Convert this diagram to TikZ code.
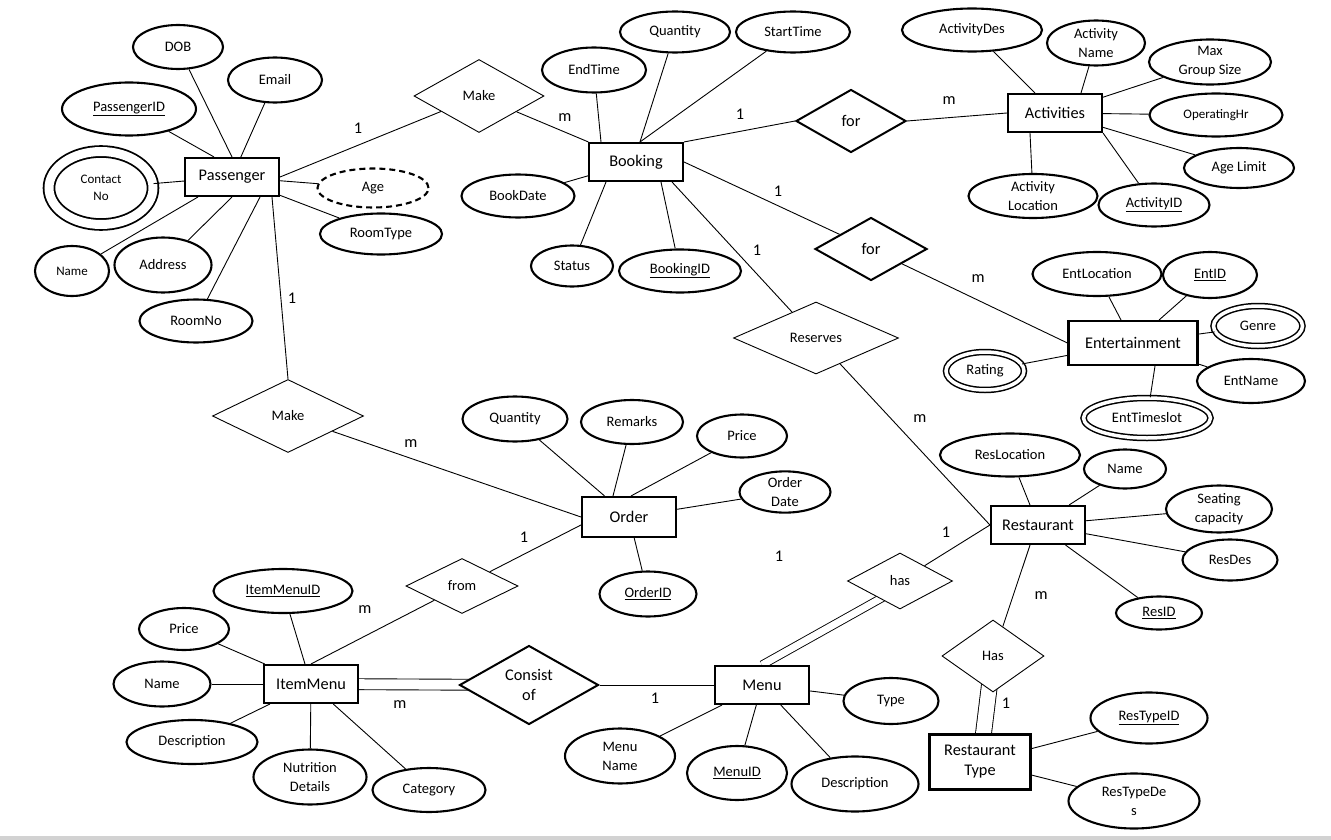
\documentclass[tikz,border=0pt]{standalone}
\usepackage{fontspec}
\setmainfont{Carlito}
\usetikzlibrary{shapes.geometric,backgrounds}

\newcommand\entsize{\fontsize{16.3}{20}\selectfont}
\newcommand\attsize{\fontsize{14.5}{19}\selectfont}
\newcommand\smallsize{\fontsize{13}{17}\selectfont}

\begin{document}
\begin{tikzpicture}[x=1pt,y=-1pt,
  entity/.style={draw,fill=white,line width=2.1pt,minimum width=94pt,minimum height=38pt,inner sep=1pt,font=\entsize,align=center},
  attr/.style={draw,fill=white,ellipse,line width=2.1pt,inner sep=0pt,font=\attsize,align=center},
  multiattr/.style={attr,double,double distance=3.5pt,line width=1.5pt},
  rel/.style={draw,fill=white,diamond,line width=0.9pt,inner sep=0pt,font=\attsize,align=center},
  relthick/.style={rel,line width=2pt,font=\entsize},
  link/.style={line width=0.9pt},
  twolink/.style={line width=0.9pt,double,double distance=#1},
  card/.style={font=\entsize}]
\node[entity] (passenger) at (232,177) {Passenger};
\node[entity] (booking) at (636,162) {Booking};
\node[entity] (activities) at (1055,113) {Activities};
\node[entity,minimum width=129pt,minimum height=44pt] (entertainment) at (1133,343) {Entertainment};
\node[entity] (restaurant) at (1038,525) {Restaurant};
\node[entity,minimum height=40pt] (order) at (629,517) {Order};
\node[entity] (itemmenu) at (311,684) {ItemMenu};
\node[entity] (menu) at (762,685) {Menu};
\node[entity,minimum width=101pt,minimum height=55pt] (restype) at (980,762) {Restaurant\\Type};

\node[rel,minimum width=130pt,minimum height=73pt] (makebook) at (479,96) {Make};
\node[relthick,minimum width=110pt,minimum height=63pt] (foract) at (851,121) {for};
\node[relthick,minimum width=112pt,minimum height=63pt] (forent) at (871,249) {for};
\node[rel,minimum width=165pt,minimum height=72pt] (reserves) at (816,338) {Reserves};
\node[rel,minimum width=151pt,minimum height=73pt] (makeorder) at (288,416) {Make};
\node[rel,minimum width=112pt,minimum height=55pt] (from) at (462,586) {from};
\node[relthick,minimum width=139pt,minimum height=65pt] (consist) at (529,685) {Consist\\of};
\node[rel,minimum width=105pt,minimum height=56pt] (hasmenu) at (900,581) {has};
\node[rel,minimum width=102pt,minimum height=72pt] (hastype) at (993,656) {Has};

\node[attr,minimum width=90pt,minimum height=44pt] (dob) at (178,47) {DOB};
\node[attr,minimum width=94pt,minimum height=45pt] (email) at (275,80) {Email};
\node[attr,minimum width=134pt,minimum height=53pt] (passid) at (129,109) {\underline{PassengerID}};
\node[multiattr,double distance=9pt,line width=1.8pt,minimum width=104pt,minimum height=73pt,font=\smallsize] (contact) at (101,188) {Contact\\No};
\node[attr,minimum width=74pt,minimum height=50pt,font=\smallsize] (pname) at (72,271) {Name};
\node[attr,minimum width=97pt,minimum height=55pt] (address) at (163,265) {Address};
\node[attr,minimum width=113pt,minimum height=43pt] (roomno) at (196,321) {RoomNo};
\node[attr,dash pattern=on 6pt off 4pt,minimum width=111pt,minimum height=39pt] (age) at (373,188) {Age};
\node[attr,minimum width=122pt,minimum height=41pt] (roomtype) at (381,234) {RoomType};

\node[attr,minimum width=104pt,minimum height=45pt] (endtime) at (594,70) {EndTime};
\node[attr,minimum width=110pt,minimum height=41pt] (bquantity) at (675,32) {Quantity};
\node[attr,minimum width=114pt,minimum height=41pt] (starttime) at (793,32) {StartTime};
\node[attr,minimum width=113pt,minimum height=43pt] (bookdate) at (518,196) {BookDate};
\node[attr,minimum width=82pt,minimum height=41pt] (status) at (572,266) {Status};
\node[attr,minimum width=122pt,minimum height=43pt] (bookingid) at (680,271) {\underline{BookingID}};

\node[attr,minimum width=140pt,minimum height=43pt] (actdes) at (972,30) {ActivityDes};
\node[attr,minimum width=98pt,minimum height=45pt] (actname) at (1096,43) {Activity\\Name};
\node[attr,minimum width=122pt,minimum height=45pt] (maxgroup) at (1210,62) {Max\\Group Size};
\node[attr,minimum width=133pt,minimum height=43pt,font=\smallsize] (operhr) at (1216,115) {OperatingHr};
\node[attr,minimum width=110pt,minimum height=40pt] (agelimit) at (1239,168) {Age Limit};
\node[attr,minimum width=129pt,minimum height=44pt] (actloc) at (1033,196) {Activity\\Location};
\node[attr,minimum width=111pt,minimum height=43pt] (actid) at (1154,205) {\underline{ActivityID}};

\node[attr,minimum width=129pt,minimum height=44pt] (entloc) at (1097,274) {EntLocation};
\node[attr,minimum width=94pt,minimum height=46pt] (entid) at (1210,275) {\underline{EntID}};
\node[multiattr,minimum width=89pt,minimum height=40pt] (genre) at (1258,326) {Genre};
\node[attr,minimum width=108pt,minimum height=44pt] (entname) at (1251,381) {EntName};
\node[multiattr,minimum width=78pt,minimum height=38pt] (rating) at (985,371) {Rating};
\node[multiattr,minimum width=127pt,minimum height=40pt] (enttime) at (1147,418) {EntTimeslot};

\node[attr,minimum width=140pt,minimum height=43pt] (resloc) at (1010,455) {ResLocation};
\node[attr,minimum width=82pt,minimum height=39pt] (rname) at (1125,469) {Name};
\node[attr,minimum width=106pt,minimum height=47pt] (seating) at (1219,509) {Seating\\capacity};
\node[attr,minimum width=95pt,minimum height=41pt] (resdes) at (1230,560) {ResDes};
\node[attr,minimum width=86pt,minimum height=33pt] (resid) at (1159,613) {\underline{ResID}};

\node[attr,minimum width=105pt,minimum height=45pt] (oquantity) at (515,419) {Quantity};
\node[attr,minimum width=102pt,minimum height=44pt] (remarks) at (632,422) {Remarks};
\node[attr,minimum width=90pt,minimum height=43pt] (oprice) at (742,436) {Price};
\node[attr,minimum width=91pt,minimum height=41pt] (odate) at (785,492) {Order\\Date};
\node[attr,minimum width=97pt,minimum height=45pt] (orderid) at (648,594) {\underline{OrderID}};

\node[attr,minimum width=139pt,minimum height=44pt] (itemid) at (283,591) {\underline{ItemMenuID}};
\node[attr,minimum width=90pt,minimum height=42pt] (iprice) at (184,629) {Price};
\node[attr,minimum width=97pt,minimum height=45pt] (iname) at (162,684) {Name};
\node[attr,minimum width=131pt,minimum height=44pt] (idesc) at (192,742) {Description};
\node[attr,minimum width=113pt,minimum height=55pt] (nutrition) at (310,777) {Nutrition\\Details};
\node[attr,minimum width=113pt,minimum height=44pt] (category) at (429,790) {Category};

\node[attr,minimum width=95pt,minimum height=46pt] (mtype) at (891,701) {Type};
\node[attr,minimum width=110pt,minimum height=55pt] (mname) at (620,756) {Menu\\Name};
\node[attr,minimum width=100pt,minimum height=54pt] (menuid) at (737,773) {\underline{MenuID}};
\node[attr,minimum width=127pt,minimum height=55pt] (mdesc) at (855,784) {Description};

\node[attr,minimum width=117pt,minimum height=51pt] (restypeid) at (1149,718) {\underline{ResTypeID}};
\node[attr,minimum width=131pt,minimum height=55pt] (restypedes) at (1134,801) {ResTypeDe\\s};

\draw[link] (passenger.east) -- (makebook);
\draw[link] (makebook) -- (booking);
\draw[link] (booking.north east) -- (foract.west);
\draw[link] (foract.east) -- (activities.west);
\draw[link] (booking.east) -- (forent);
\draw[link] (forent) -- (entertainment.west);
\draw[link] ([xshift=-12pt]booking.south east) -- (reserves);
\draw[link] (reserves) -- (restaurant.west);
\draw[link] ([xshift=40pt]passenger.south) -- (makeorder.north);
\draw[link] (makeorder) -- (order.west);
\draw[link] ([yshift=-8pt]order.west) -- (from);
\draw[link] (from) -- (itemmenu.north);
\draw[link] (consist.east) -- (menu.west);
\draw[link] (hasmenu) -- (restaurant.west);
\draw[link] ([xshift=-8pt]restaurant.south) -- (hastype);
\begin{scope}[on background layer]
\draw[twolink=10pt] (itemmenu.center) -- (consist.center);
\draw[twolink=7pt] (menu.north) -- ([xshift=12pt]hasmenu.center);
\draw[twolink=15pt] (hastype.center) -- (restype.center);
\end{scope}

\draw[link] (dob) -- (passenger.north);
\draw[link] (email) -- (passenger);
\draw[link] (passid) -- ([xshift=-18pt]passenger.north);
\draw[link] (contact) -- (passenger);
\draw[link] (pname) -- (passenger);
\draw[link] (address) -- (passenger.south);
\draw[link] (roomno) -- ([xshift=28pt]passenger.south);
\draw[link] (age) -- (passenger);
\draw[link] (roomtype) -- (passenger);
\draw[link] (endtime) -- ([xshift=-35pt]booking.north);
\draw[link] (bquantity) -- ([xshift=4pt]booking.north);
\draw[link] (starttime) -- ([xshift=4pt]booking.north);
\draw[link] (bookdate) -- (booking);
\draw[link] (status) -- ([xshift=-30pt]booking.south);
\draw[link] (bookingid) -- ([xshift=25pt]booking.south);
\draw[link] (actdes) -- (activities);
\draw[link] (actname) -- ([xshift=26pt]activities.north);
\draw[link] (maxgroup) -- (activities);
\draw[link] (operhr) -- (activities);
\draw[link] (agelimit) -- (activities);
\draw[link] (actloc) -- ([xshift=-25pt]activities.south);
\draw[link] (actid) -- (activities.south east);
\draw[link] (entloc) -- (entertainment);
\draw[link] (entid) -- (entertainment);
\draw[link] (genre) -- (entertainment);
\draw[link] (entname) -- (entertainment);
\draw[link] (rating) -- (entertainment);
\draw[link] (enttime) -- ([xshift=22pt]entertainment.south);
\draw[link] (resloc) -- (restaurant);
\draw[link] (rname) -- (restaurant);
\draw[link] (seating) -- (restaurant);
\draw[link] (resdes) -- (restaurant);
\draw[link] (resid) -- (restaurant);
\draw[link] (oquantity) -- (order);
\draw[link] (remarks) -- ([xshift=-16pt]order.north);
\draw[link] (oprice) -- ([xshift=2pt]order.north);
\draw[link] (odate) -- (order);
\draw[link] (orderid) -- (order);
\draw[link] (itemid) -- (itemmenu);
\draw[link] (iprice) -- (itemmenu);
\draw[link] (iname) -- (itemmenu);
\draw[link] (idesc) -- (itemmenu);
\draw[link] (nutrition) -- (itemmenu);
\draw[link] (category) -- (itemmenu);
\draw[link] (mtype) -- (menu);
\draw[link] (mname) -- (menu);
\draw[link] (menuid) -- (menu);
\draw[link] (mdesc) -- (menu);
\draw[link] (restypeid) -- (restype);
\draw[link] (restypedes) -- (restype);

\node[card] (card1) at (358,128) {1};
\node[card] (card2) at (565,118) {m};
\node[card] (card3) at (740,114) {1};
\node[card] (card4) at (949,101) {m};
\node[card] (card5) at (778,191) {1};
\node[card] (card6) at (978,279) {m};
\node[card] (card7) at (757,250) {1};
\node[card] (card8) at (920,419) {m};
\node[card] (card9) at (292,298) {1};
\node[card] (card10) at (411,444) {m};
\node[card] (card11) at (524,537) {1};
\node[card] (card12) at (365,610) {m};
\node[card] (card13) at (400,705) {m};
\node[card] (card14) at (655,698) {1};
\node[card] (card15) at (779,556) {1};
\node[card] (card16) at (946,532) {1};
\node[card] (card17) at (1041,596) {m};
\node[card] (card18) at (1006,703) {1};

\fill[gray!35] (0,836) rectangle (1331,840);
\path (0,0) rectangle (1331,840);
\end{tikzpicture}
\end{document}
